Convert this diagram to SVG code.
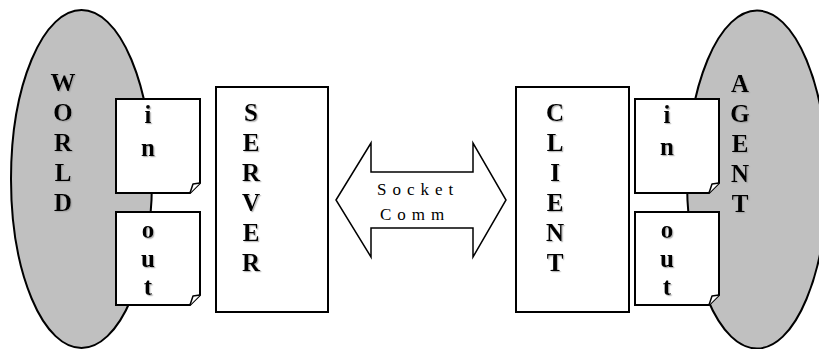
<svg xmlns="http://www.w3.org/2000/svg" width="819" height="349" viewBox="0 0 819 349">
<defs>
<filter id="sh" x="-20%" y="-20%" width="150%" height="150%">
<feDropShadow dx="1.2" dy="1.2" stdDeviation="0.5" flood-color="#999" flood-opacity="0.7"/>
</filter>
</defs>
<style>
.ell{fill:#c0c0c0;stroke:#000;stroke-width:2}
.box{fill:#fff;stroke:#000;stroke-width:2}
.fold{fill:#fff;stroke:#000;stroke-width:1.5;stroke-linejoin:round}
.big{font-family:"Liberation Serif","Times New Roman",serif;font-weight:bold;font-size:25px;text-anchor:middle;filter:url(#sh)}
.sock{font-family:"Liberation Serif","Times New Roman",serif;font-size:17px;letter-spacing:6px}
.arrow{fill:#fff;stroke:#000;stroke-width:1.5;stroke-linejoin:miter}
</style>
<rect width="819" height="349" fill="#fff"/>
<g id="world">
<ellipse class="ell" cx="81.5" cy="179" rx="70.5" ry="169"/>
<text class="big" x="63"><tspan x="63" y="91">W</tspan><tspan x="63" y="121">O</tspan><tspan x="63" y="151">R</tspan><tspan x="63" y="181">L</tspan><tspan x="63" y="211">D</tspan></text>
</g>
<g id="agent">
<ellipse class="ell" cx="757" cy="179.5" rx="70" ry="169"/>
<text class="big" x="740"><tspan x="740" y="92">A</tspan><tspan x="740" y="122">G</tspan><tspan x="740" y="152">E</tspan><tspan x="740" y="182">N</tspan><tspan x="740" y="212">T</tspan></text>
</g>
<g id="world-in">
<path class="box" d="M116,99 H200 V183 L190,193 H116 Z"/>
<path class="fold" d="M190,193 L193,184 L200,183"/>
<text class="big"><tspan x="148" y="123">i</tspan><tspan x="148" y="156">n</tspan></text>
</g>
<g id="world-out">
<path class="box" d="M116,212 H200 V295 L190,305 H116 Z"/>
<path class="fold" d="M190,305 L193,296 L200,295"/>
<text class="big"><tspan x="148" y="238">o</tspan><tspan x="148" y="267">u</tspan><tspan x="148" y="295">t</tspan></text>
</g>
<g id="server">
<rect class="box" x="216" y="87" width="112" height="225"/>
<text class="big"><tspan x="251" y="121">S</tspan><tspan x="251" y="151">E</tspan><tspan x="251" y="181">R</tspan><tspan x="251" y="211">V</tspan><tspan x="251" y="241">E</tspan><tspan x="251" y="271">R</tspan></text>
</g>
<g id="client">
<rect class="box" x="516" y="87" width="113" height="225"/>
<text class="big"><tspan x="555" y="121">C</tspan><tspan x="555" y="151">L</tspan><tspan x="555" y="181">I</tspan><tspan x="555" y="211">E</tspan><tspan x="555" y="241">N</tspan><tspan x="555" y="271">T</tspan></text>
</g>
<g id="agent-in">
<path class="box" d="M635,99 H719 V183 L709,193 H635 Z"/>
<path class="fold" d="M709,193 L712,184 L719,183"/>
<text class="big"><tspan x="667" y="123">i</tspan><tspan x="667" y="155">n</tspan></text>
</g>
<g id="agent-out">
<path class="box" d="M635,212 H719 V295 L709,305 H635 Z"/>
<path class="fold" d="M709,305 L712,296 L719,295"/>
<text class="big"><tspan x="667" y="238">o</tspan><tspan x="667" y="267">u</tspan><tspan x="667" y="295">t</tspan></text>
</g>
<g id="connectors">
<polygon class="arrow" points="336,200 371,143 371,172 473,172 473,143 506,200 473,257 473,228 371,228 371,257"/>
<text class="sock" x="377" y="195">Socket</text>
<text class="sock" x="380" y="220">Comm</text>
</g>
</svg>
